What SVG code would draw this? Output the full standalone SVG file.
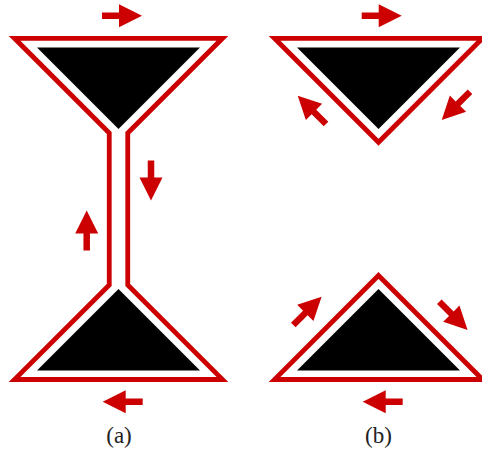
<svg xmlns="http://www.w3.org/2000/svg" xmlns:xlink="http://www.w3.org/1999/xlink" width="482" height="459" viewBox="0 0 482 459">
  <style>
    .outline { fill: none; stroke: #cc0000; stroke-width: 4.8; stroke-linejoin: miter; stroke-miterlimit: 10; }
    .core { fill: #000000; }
    .arrow { fill: #cc0000; }
    .label { font-family: "Liberation Serif", "DejaVu Serif", serif; font-size: 23px; fill: #222222; text-anchor: middle; }
  </style>
  <defs>
    <path id="arr" d="M0,-3.25 H17 V-11.5 L40,0 L17,11.5 V3.25 H0 Z"/>
  </defs>
  <rect x="0" y="0" width="482" height="459" fill="#ffffff"/>

  <g id="panel-a">
    <polygon class="outline" points="14.5,38.3 222.5,38.3 127.75,133 127.75,285 222.5,379.5 14.5,379.5 109.25,285 109.25,133"/>
    <g id="a-top"><polygon class="core" points="37,47.5 200,47.5 118.5,129"/></g>
    <g id="a-bottom"><polygon class="core" points="118.5,289 200,370.5 37,370.5"/></g>
  </g>

  <g id="panel-b">
    <g id="b-top">
      <polygon class="outline" points="274.5,38.3 482.5,38.3 378.5,142.3"/>
      <polygon class="core" points="297,47.5 460,47.5 378.5,129"/>
    </g>
    <g id="b-bottom">
      <polygon class="outline" points="378.5,275.5 482.5,379.5 274.5,379.5"/>
      <polygon class="core" points="378.5,289 460,370.5 297,370.5"/>
    </g>
  </g>

  <g id="arrows" class="arrow">
    <use xlink:href="#arr" transform="translate(102,15.7)"/>
    <use xlink:href="#arr" transform="translate(151,160.5) rotate(90)"/>
    <use xlink:href="#arr" transform="translate(86.7,250.5) rotate(-90)"/>
    <use xlink:href="#arr" transform="translate(142.7,401.7) rotate(180)"/>
    <use xlink:href="#arr" transform="translate(361.7,15.7)"/>
    <use xlink:href="#arr" transform="translate(326,124) rotate(-135)"/>
    <use xlink:href="#arr" transform="translate(470,91.7) rotate(135)"/>
    <use xlink:href="#arr" transform="translate(293.3,325) rotate(-45)"/>
    <use xlink:href="#arr" transform="translate(439.3,301.7) rotate(45)"/>
    <use xlink:href="#arr" transform="translate(402.7,401.7) rotate(180)"/>
  </g>

  <g id="labels">
    <text id="label-a" class="label" x="119" y="443">(a)</text>
    <text id="label-b" class="label" x="378.5" y="443">(b)</text>
  </g>
</svg>
